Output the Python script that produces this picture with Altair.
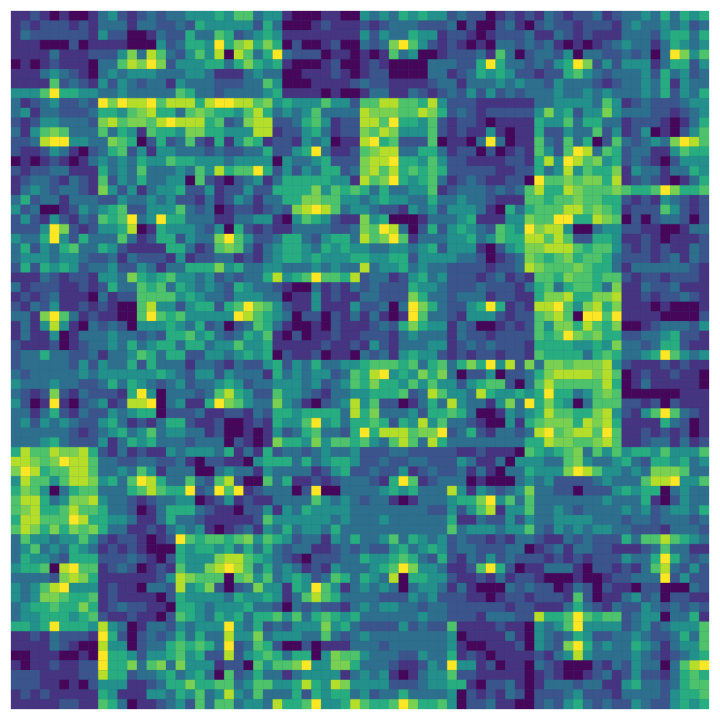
import altair as alt
import pandas as pd

# Cell levels, 0 (darkest) to 9 (brightest), in three column groups.
LEFT = [
"112101001 342123233 444546","121222121 333133223 254444","132222221 422001322 533652",
"111000201 111000423 554957","111131112 224738632 464808","010121110 336879724 445535",
"111343210 343444333 443111","111162321 424323314 333222","444695544 334333336 533233",
"312342232 979889688 858998","341332223 554678553 676554","212443332 786776898 885623",
"314676333 635416554 775544","223899443 376502523 621514","211243102 356241443 332322",
"010121013 434354465 544434","212233111 534363334 364856","123321321 624353344 062102",
"134323321 742413445 224122","352331333 224334342 213124","423001243 456224446 323012",
"242142132 656934955 333113","222497212 445801544 432405","433594253 336312552 433796",
"352435633 542111155 312676","344434432 231322214 122331","252545423 342243133 555745",
"111321221 443754564 434232","312221121 253365635 434325","121231110 312266664 543324",
"213241121 210068442 455256","331796312 110069656 444449","131484103 232044454 352302",
"131140133 343323255 645323","211120123 343534553 553446","233533223 133465355 224434",
"233333242 433525333 133213","323333343 444444543 244243","433343322 353543234 233454",
"321272132 221594033 323685","420191023 412889034 115976","331352132 243455022 231122",
"342434322 453121355 211200","333333212 345346344 331200","333453222 413545333 233302",
"586687785 213121143 444351","887679886 332233223 102211","798566886 334364133 300343",
"486646887 453698533 632682","576403566 333568655 923969","688534778 433212334 401241",
"678556866 533201355 532110","588666985 544311353 321111","687575767 533112134 341012",
"364434464 212210129 656656","346343543 121210005 455453","354432555 222321025 444788",
"455608966 123201216 447898","333327875 111111248 766606","434689444 121103328 457202",
"434776556 121111025 444435","345565575 123221105 543444","344555456 211211026 543545",
"554595554 843013324 344494","112132221 952023235 353384","111132100 844023356 565392",
"001110010 955424456 452282","101121122 955736737 444122","222111122 855233453 453062",
"222110102 444112355 755663","121211111 541114435 463484","111112211 653011234 263663",
]
MID = [
"634410001100434354544232","425300012111212333222302","345411111111424335441221",
"857502001200323796421210","635932220110101634001222","754510001200121000033322",
"343300111210122000033123","336400011112322111123313","334511110100133113212324",
"867454446442668866584222","685343463333877766875232","788223564122886955462122",
"488122453122768744462121","651221434011895622260110","335224593112678833553122",
"444043345222788955464221","695242435523786856565222","341355555441867954563123",
"422555574656535334461233","313355776644345443353343","212327898634432214342444",
"344104654211745000133345","212113333223769830252454","422355324553867961333445",
"313455435454433443452444","213455454445544552444433","334433343433834453433222",
"335845696658233124534222","433210031213232225443222","443301141211332227533233",
"976421141114223039753224","865430220213131019633214","365310010211123257544132",
"546102011211222134333132","445111112112142133344123","545021120110323145442121",
"224524353344566656356357","331534344236589454757302","233444342346575546464424",
"422644321334455562386443","433743102348462201353843","132554555538573334255653",
"121544694535565254846332","101423563325958886779235","101755474665643686385333",
"315233234334222332222211","045553534554223223322243","314333312452232241232231",
"006351121233321596123330","123330290033334545333841","211333364343233101333455",
"224143544443333333322424","126444444343334333333511","314353443533333333333634",
"746542331435334635434232","535323311232322453454233","654321022233544565325213",
"635343121433345697443112","746345423653543805544211","374415496413434303443131",
"445413686533332224342221","533203232213434433233222","355646356545333333433222",
"352324447453222242322611","473444336323433333333401","365200201113332333333410",
"456535504766433322433512","064667944775333211243944","353313444413434101344622",
"466445854874444222344551","363335254553423353333402","443855694458655697556402",
]
RIGHT = [
"201212132122312334353545","002310232212221343343423","012223113212111333245535",
"103323231010123433135434","316302332403322323039746","595332324597242444135524",
"545422122564323334253423","334343324333212334351433","242323334334343334352435",
"111111334444364123222344","122222474524474333221234","101111544635533122210135",
"141011522433624124010246","393011632635026323437986","020121642698365233114655",
"111221584986745232102444","221122534846557143313354","211220966767758123210135",
"323236855876667655697556","321116656676655212143212","310535666886765122264212",
"111447669955876020233202","326549788400344221100133","346558868622554112101112",
"102457788865664212121132","201237656756653222123132","212238766676553133333321",
"123121665766566212212221","322213563566537113223111","312211577855778112122321",
"595121889647857111010001","442122678609969111100002","001212647758657001233324",
"212222656976755223345221","232221555544547332355211","221221655553565334596434",
"594827377677784211121211","240223578888786012112110","566203686666685013111110",
"854454595534676000000111","314739575403666221202111","001434586655784214696321",
"100415677758785111153201","213323896788696112121201","333335587766786112331312",
"211106545673646455464446","113044433674334532554534","310335444798644343777633",
"100034342222343336889446","432347332202224545503433","794636333333343335102433",
"681446334323333434234435","322424334444333233233323","443446324343443322213332",
"212133211323222536686543","222330123133221112363311","242322212121222433595323",
"695201133310221213683242","213122100010012233392422","000323220132021102200032",
"101221222162011342302211","222122111353213224323232","133322855696566234403351",
"112110434694444234234446","111310432354223343223536","011120432795343354313446",
"101111213484333343212345","120110321000213243303689","111110121001231242213565",
"022310133323311453323566","121320222342221333324556","231100232453232243224545",
]
LEVELS = list(range(10))
COLOURS = ["#46075a", "#463480", "#3b548c", "#2e6f8e", "#23908c",
           "#28ad81", "#4ec36b", "#7ad151", "#b5de2b", "#fde725"]

records = []
for r, (a, b, c) in enumerate(zip(LEFT, MID, RIGHT)):
    row = a.replace(" ", "")[:24].ljust(24, "3") + b[:24].ljust(24, "3") + c[:24].ljust(24, "3")
    for k, ch in enumerate(row):
        records.append({"col": k, "row": r, "v": int(ch)})
df = pd.DataFrame(records)

scale = alt.Scale(domain=LEVELS, range=COLOURS)
chart = (
    alt.Chart(df)
    .mark_rect(strokeWidth=0.3)
    .encode(
        x=alt.X("col:O", axis=None, scale=alt.Scale(paddingInner=0, paddingOuter=0)),
        y=alt.Y("row:O", axis=None, scale=alt.Scale(paddingInner=0, paddingOuter=0)),
        color=alt.Color("v:O", scale=scale, legend=None),
        stroke=alt.Stroke("v:O", scale=scale, legend=None),
    )
    .properties(width=698, height=698, padding=3, autosize=alt.AutoSizeParams(type="none"))
    .configure_view(stroke=None, fill="#2e6f8e")
)
chart.save("out.html", embed_options={"renderer": "svg", "actions": False})
